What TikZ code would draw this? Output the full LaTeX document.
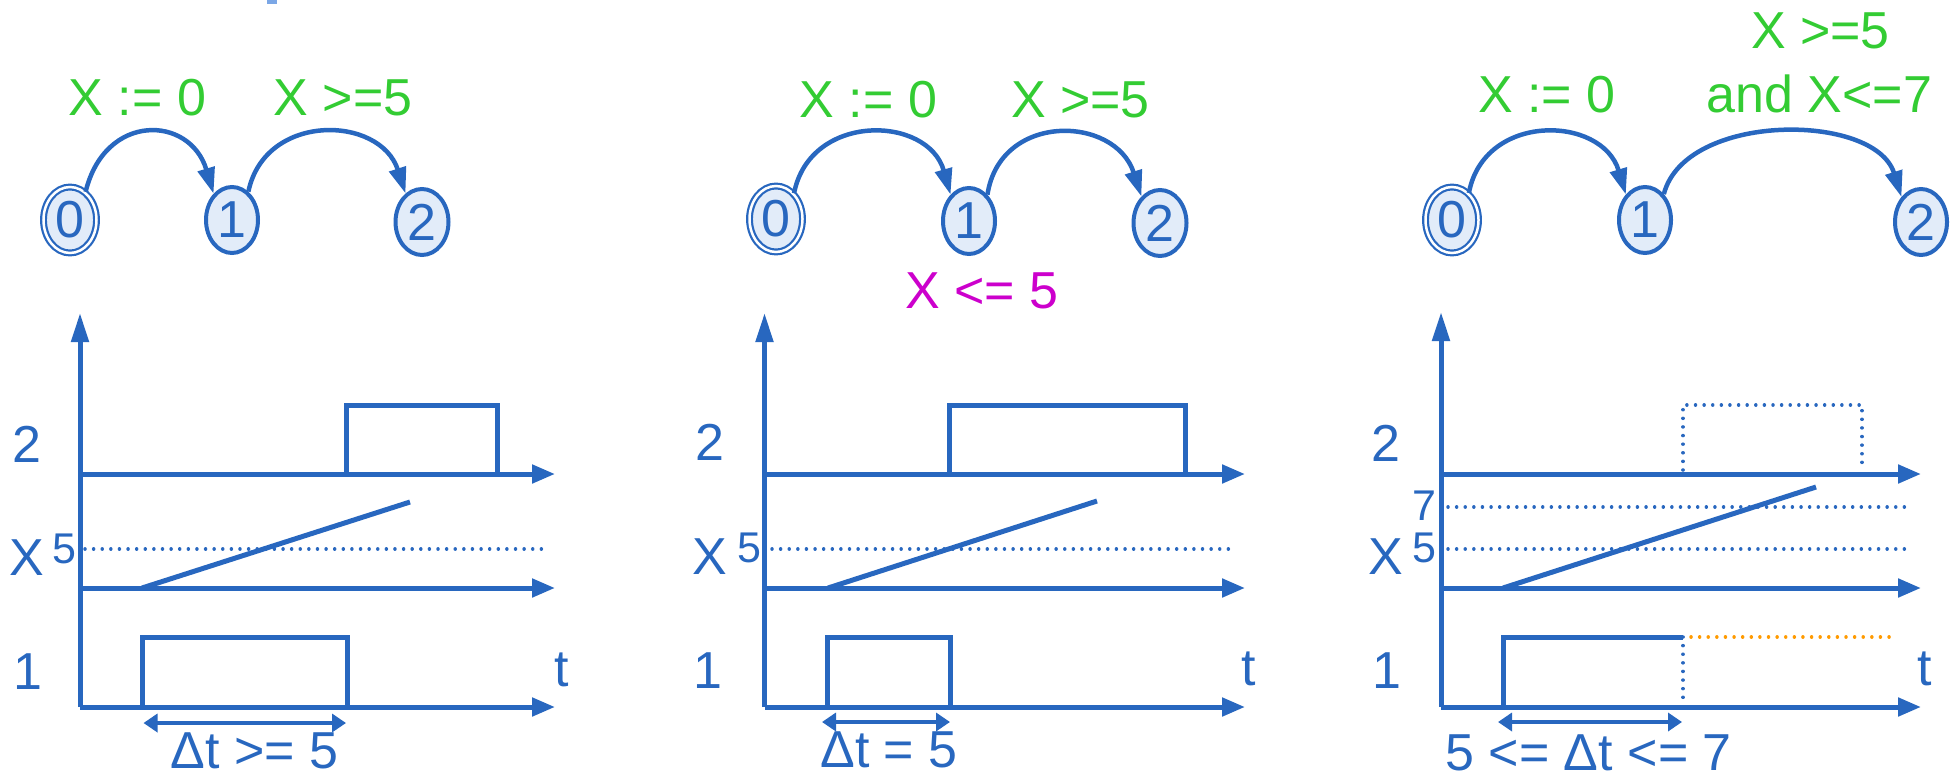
\documentclass[tikz,border=0pt]{standalone}
\usepackage{fontspec}
\setmainfont{Liberation Sans}
\usetikzlibrary{arrows.meta,shapes.geometric}
\definecolor{bl}{HTML}{2867BF}
\definecolor{lf}{HTML}{E2ECF9}
\definecolor{gr}{HTML}{33CC33}
\definecolor{mg}{HTML}{CC00CC}
\definecolor{orng}{HTML}{FF9A00}
\definecolor{mk}{HTML}{7BA7E6}
\newcommand{\szL}{\fontsize{52}{60}\selectfont}
\newcommand{\szS}{\fontsize{43}{48}\selectfont}
\tikzset{
  st/.style={ellipse, draw=bl, fill=lf, line width=4pt, inner sep=0pt,
    minimum height=66pt, minimum width=52pt, text=bl, font=\szL},
  stz/.style={st, double=white, double distance=2.5pt, line width=2.2pt, minimum width=53pt},
  lbl/.style={anchor=base, inner sep=0pt, font=\szL},
  glbl/.style={lbl, text=gr},
  blbl/.style={lbl, text=bl},
  slbl/.style={anchor=base, inner sep=0pt, font=\szS, text=bl},
  arc/.style={draw=bl, line width=4.5pt, -{Triangle[length=26pt,width=17pt]}},
  haxis/.style={draw=bl, line width=5pt, -{Triangle[length=23pt,width=18pt]}},
  vaxis/.style={draw=bl, line width=5pt, -{Triangle[length=29pt,width=17pt]}},
  sig/.style={draw=bl, line width=5pt},
  dots/.style={draw=bl, line width=3.5pt, line cap=round, dash pattern=on 0.01pt off 8.6pt},
  odots/.style={draw=orng, line width=3.5pt, line cap=round, dash pattern=on 0.01pt off 8.6pt},
  dur/.style={draw=bl, line width=4pt, {Triangle[length=14pt,width=18pt]}-{Triangle[length=14pt,width=18pt]}},
}
\begin{document}
\begin{tikzpicture}[x=1pt, y=-1pt]
\useasboundingbox (0,0) rectangle (1953,779);
\fill[fill=mk] (267,0) rectangle (277,4);

% ================= Panel 1 =================
\node[stz] (a0) at (70,220) {0};
\node[st] (a1) at (232,220) {1};
\node[st, minimum width=53pt] (a2) at (422,222) {2};
\draw[arc] (a0.61) .. controls (105,112) and (190,115) .. (a1.125);
\draw[arc] (a1.60) .. controls (265,112) and (380,115) .. (a2.120);
\node[glbl] (ga01) at (137.5,115) {X := 0};
\node[glbl] (ga12) at (343,115) {X >=5};

\coordinate (ao) at (80,707);
\draw[vaxis] (ao) -- (80,313);
\draw[haxis] (80,474) -- (555,474);
\draw[haxis] (80,588) -- (555,588);
\draw[haxis] (ao) -- (555,707);
\draw[sig] (346,474) -- (346,405) -- (497.5,405) -- (497.5,474);
\draw[sig] (142,588) -- (410,502);
\draw[dots] (85,549) -- (549,549);
\draw[sig] (142,706) -- (142,637) -- (347,637) -- (347,706);
\draw[dur] (143.5,723) -- (346,723);
\node[blbl] (a2l) at (27,462) {2};
\node[blbl] (aXl) at (27,575) {X};
\node[slbl] (a5l) at (64.7,563) {5};
\node[blbl] (a1l) at (27.5,689) {1};
\node[blbl] (atl) at (561.5,686) {t};
\node[blbl] (adt) at (254.5,768) {Δt >= 5};

% ================= Panel 2 =================
\node[stz] (b0) at (776,219) {0};
\node[st] (b1) at (969,221) {1};
\node[st, minimum width=53pt] (b2) at (1160,223) {2};
\draw[arc] (b0.55) .. controls (810,112) and (928,115) .. (b1.125);
\draw[arc] (b1.55) .. controls (1000,112) and (1115,115) .. (b2.125);
\node[glbl] (gb01) at (868.5,117) {X := 0};
\node[glbl] (gb12) at (1080.5,117) {X >=5};
\node[lbl, text=mg] (inv) at (982,308) {X <= 5};

\coordinate (bo) at (764.5,707);
\draw[vaxis] (bo) -- (764.5,313);
\draw[haxis] (764.5,474) -- (1245,474);
\draw[haxis] (764.5,588) -- (1245,588);
\draw[haxis] (bo) -- (1245,707);
\draw[sig] (949,474) -- (949,405) -- (1185,405) -- (1185,474);
\draw[sig] (828,588) -- (1097,501);
\draw[dots] (772,549) -- (1234,549);
\draw[sig] (827,706) -- (827,637) -- (950,637) -- (950,706);
\draw[dur] (822,722) -- (950,722);
\node[blbl] (b2l) at (710,460) {2};
\node[blbl] (bXl) at (710,574) {X};
\node[slbl] (b5l) at (749.5,562) {5};
\node[blbl] (b1l) at (707.5,688) {1};
\node[blbl] (btl) at (1249,685) {t};
\node[blbl] (bdt) at (889,767) {Δt = 5};

% ================= Panel 3 =================
\node[stz] (c0) at (1452,220) {0};
\node[st] (c1) at (1645,220) {1};
\node[st] (c2) at (1921,222) {2};
\draw[arc] (c0.58) .. controls (1484,112) and (1602,115) .. (c1.127);
\draw[arc] (c1.54) .. controls (1685,112) and (1875,112) .. (c2.128);
\node[glbl] (gc01) at (1547,112) {X := 0};
\node[glbl] (gc12a) at (1820.5,48) {X >=5};
\node[glbl] (gc12b) at (1819.5,112) {and X<=7};

\coordinate (co) at (1441,707);
\draw[vaxis] (co) -- (1441,312);
\draw[haxis] (1441,474) -- (1921,474);
\draw[haxis] (1441,588) -- (1921,588);
\draw[haxis] (co) -- (1921,707);
\draw[dots] (1683,470) -- (1683,405) -- (1862,405) -- (1862,470);
\draw[sig] (1503,588) -- (1816,487);
\draw[dots] (1448,507) -- (1909,507);
\draw[dots] (1448,549) -- (1909,549);
\draw[sig] (1503,706) -- (1503,637) -- (1683,637);
\draw[dots] (1683,637) -- (1683,702);
\draw[odots] (1691,637) -- (1896,637);
\draw[dur] (1498,722) -- (1682,722);
\node[blbl] (c2l) at (1386,461) {2};
\node[slbl] (c7l) at (1424,520) {7};
\node[slbl] (c5l) at (1424,562) {5};
\node[blbl] (cXl) at (1386,574) {X};
\node[blbl] (c1l) at (1386.5,688) {1};
\node[blbl] (ctl) at (1925,685) {t};
\node[blbl] (cdt) at (1588.6,770) {5 <= Δt <= 7};
\end{tikzpicture}
\end{document}
